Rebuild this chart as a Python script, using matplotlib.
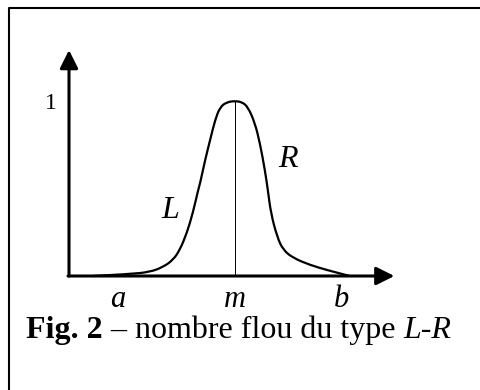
import numpy as np
import matplotlib
matplotlib.use("Agg")
import matplotlib.pyplot as plt
from matplotlib.lines import Line2D
from matplotlib.path import Path
from matplotlib.patches import PathPatch

plt.rcParams['font.family'] = ['Liberation Serif', 'DejaVu Serif']

# membership function (x in arbitrary units, m = 5)
curve_x = [0.72, 1.84, 2.44, 2.83, 3.13, 3.34, 3.55, 3.73, 3.89, 3.95, 4.10,
           4.25, 4.40, 4.55, 4.76, 5.00, 5.21, 5.39, 5.60, 5.75, 5.90, 5.99,
           6.08, 6.27, 6.45, 6.75, 7.26, 7.77, 8.46]
curve_mu = [0.0, 0.011, 0.023, 0.051, 0.091, 0.149, 0.246, 0.36, 0.491, 0.531,
            0.663, 0.777, 0.891, 0.966, 0.994, 1.0, 0.994, 0.966, 0.874, 0.76,
            0.606, 0.491, 0.36, 0.223, 0.149, 0.103, 0.063, 0.034, 0.0]

tick_pos = [1.48, 5.0, 8.22]
tick_labels = ['a', 'm', 'b']
m_pos = 5.0

fig = plt.figure(figsize=(4.8, 3.9), dpi=100)
ax = fig.add_axes([0, 0, 1, 1])
ax.set_xlim(-69 / 33.2, 411 / 33.2)
ax.set_ylim(-114 / 175, 276 / 175)
ax.axis('off')

# frame: only the left and top sides are inside the picture
fx, fy = 8.5 / 480, 1 - 7.5 / 390
fig.lines.append(Line2D([fx, fx, 1.1], [-0.1, fy, fy], transform=fig.transFigure,
                        color='black', lw=1.5))

# axes with arrows
arr = dict(arrowstyle='-|>,head_length=1.1,head_width=0.55', mutation_scale=10,
           lw=2.2, color='black', shrinkA=0, shrinkB=0)
ax.annotate('', xy=(0, 1.291), xytext=(0, 0), arrowprops=arr)
ax.annotate('', xy=(9.8, 0), xytext=(-0.03, 0), arrowprops=arr)

# smooth the read points with quadratic pieces through the midpoints
pts = np.column_stack([curve_x, curve_mu])
verts = [pts[0]]
codes = [Path.MOVETO]
for i in range(1, len(pts) - 1):
    verts += [pts[i], (pts[i] + pts[i + 1]) / 2]
    codes += [Path.CURVE3, Path.CURVE3]
verts.append(pts[-1])
codes.append(Path.LINETO)
ax.add_patch(PathPatch(Path(verts, codes), fill=False, ec='black', lw=1.6))

ax.plot([m_pos, m_pos], [0, 1.0], color='black', lw=0.7)

for p, lab in zip(tick_pos, tick_labels):
    ax.text(p, -0.177, lab, fontsize=22, style='italic', ha='center', va='baseline')

ax.text(-0.36, 0.985, '1', fontsize=17, ha='right', va='center')
ax.text(3.04, 0.331, 'L', fontsize=23, style='italic', ha='center', va='baseline')
ax.text(6.6, 0.623, 'R', fontsize=23, style='italic', ha='center', va='baseline')

# caption in mixed styles, placed piece by piece
fig.canvas.draw()
renderer = fig.canvas.get_renderer()
x = 26 / 480
y = (390 - 338) / 390
pieces = [('Fig. 2', 'bold', 'normal'), (' \u2013 nombre flou du type ', 'normal', 'normal'),
          ('L-R', 'normal', 'italic')]
for s, w, st in pieces:
    t = fig.text(x, y, s, fontsize=23, fontweight=w, style=st, va='baseline')
    bb = t.get_window_extent(renderer)
    x += bb.width / fig.bbox.width

fig.savefig('out.png', dpi=100)
